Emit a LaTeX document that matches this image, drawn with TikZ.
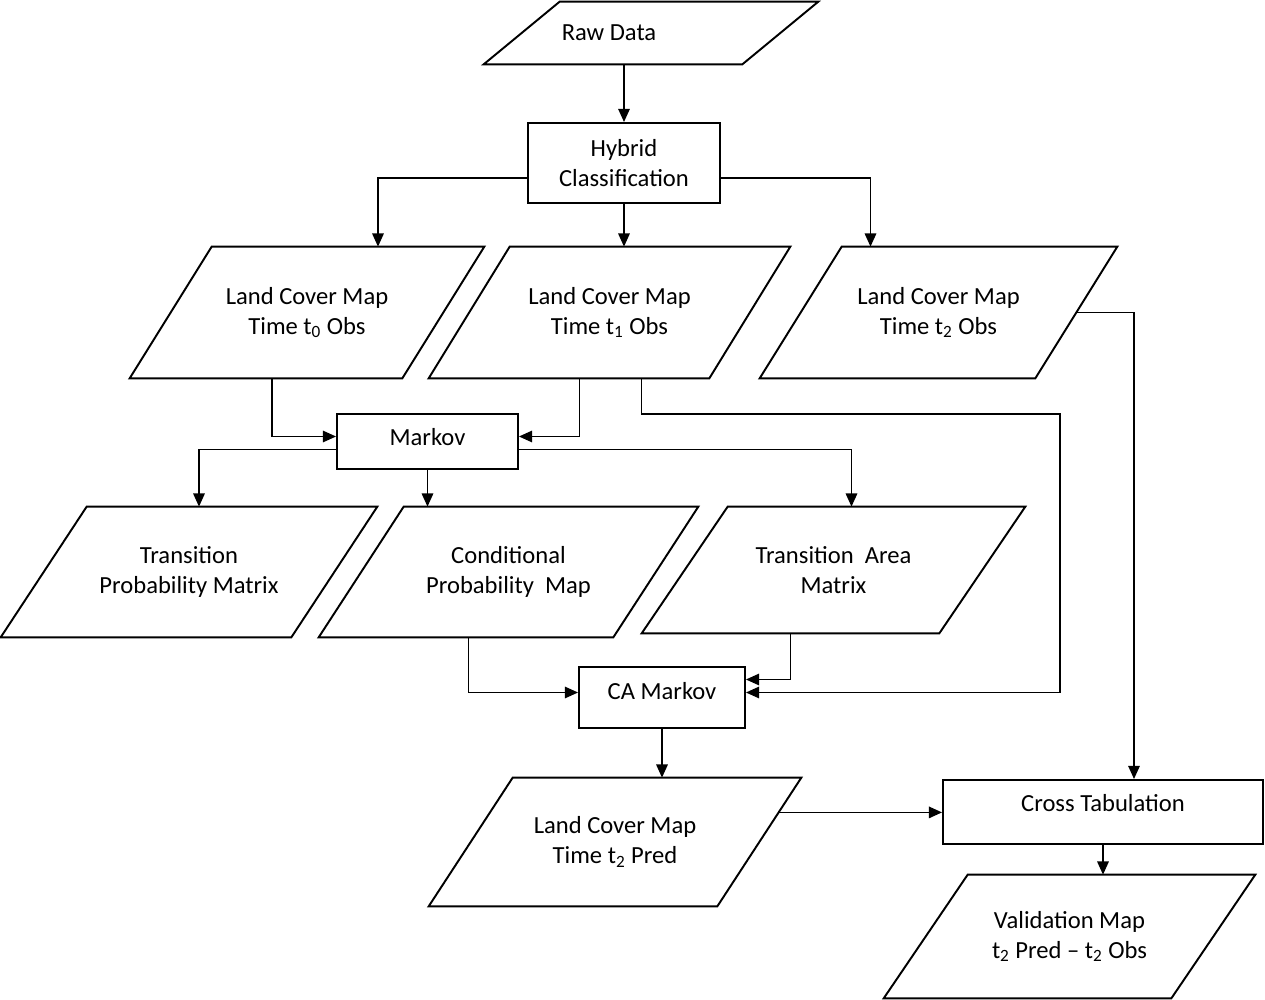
\documentclass[tikz,border=0pt]{standalone}
\usepackage{fontspec}
\setmainfont{Carlito}
\usetikzlibrary{positioning}
\usetikzlibrary{arrows.meta,calc}
\tikzstyle{rectangle1} = [rectangle, draw=black, line width=1.1pt, text centered, align=center, inner sep=2pt]
\tikzset{slanted1/.style={rectangle, text centered, align=center, inner sep=2pt,
	append after command={\pgfextra{\draw[line width=1.1pt, line join=miter] ([xshift=#1]\tikzlastnode.north west) -- ([xshift=#1]\tikzlastnode.north east) -- ([xshift=-#1]\tikzlastnode.south east) -- ([xshift=-#1]\tikzlastnode.south west) -- cycle;}}},
	slanted1/.default=0.84cm}
\tikzstyle{line1} = [-{Triangle[length=7.5pt,width=6.5pt]}, line width=1pt]

\begin{document}
\begin{tikzpicture}[x=0.02cm, y=-0.02cm, font=\fontsize{14}{17}\selectfont]
	\useasboundingbox[fill=white] (0,0) rectangle (1265,1000);
	\node[slanted1=0.76cm, minimum width=5.16cm, minimum height=1.24cm](raw) at (651,33){Raw Data\hspace*{1.68cm}};
	\node[rectangle1, minimum width=3.84cm, minimum height=1.6cm](hybrid) at (624,163){Hybrid\\Classification};
	\node[slanted1=0.82cm, minimum width=5.44cm, minimum height=2.62cm](lcm0) at (307,312.5){Land Cover Map\\Time t\textsubscript{0} Obs};
	\node[slanted1=0.81cm, minimum width=5.6cm, minimum height=2.62cm](lcm1) at (609.5,312.5){Land Cover Map\\Time t\textsubscript{1} Obs};
	\node[slanted1=0.82cm, minimum width=5.5cm, minimum height=2.62cm](lcm2) at (938.5,312.5){Land Cover Map\\Time t\textsubscript{2} Obs};
	\node[rectangle1, minimum width=3.62cm, minimum height=1.1cm, text depth=0.18cm](markov) at (427.5,441.5){Markov};
	\node[slanted1=0.86cm, minimum width=5.8cm, minimum height=2.6cm](tpm) at (189,572){Transition\\Probability Matrix};
	\node[slanted1=0.85cm, minimum width=5.88cm, minimum height=2.6cm](cpm) at (508.5,572){Conditional\\Probability~ Map};
	\node[slanted1=0.86cm, minimum width=5.94cm, minimum height=2.52cm](tam) at (833.5,570){Transition~ Area\\Matrix};
	\node[rectangle1, minimum width=3.32cm, minimum height=1.22cm, text depth=0.28cm](camarkov) at (662,697.5){CA Markov};
	\node[slanted1=0.84cm, minimum width=5.76cm, minimum height=2.56cm](pred) at (615,842){Land Cover Map\\Time t\textsubscript{2} Pred};
	\node[rectangle1, minimum width=6.4cm, minimum height=1.28cm, text depth=0.36cm](cross) at (1103,812){Cross Tabulation};
	\node[slanted1=0.84cm, minimum width=5.74cm, minimum height=2.46cm](valid) at (1069.5,936.5){Validation Map\\t\textsubscript{2} Pred -- t\textsubscript{2} Obs};
	\coordinate (turn) at (1060,414);
	\coordinate (predtr) at ([xshift=0.84cm]pred.north east);
	\coordinate (predbr) at ([xshift=-0.84cm]pred.south east);
	\coordinate (predout) at ($(predtr)!0.27!(predbr)$);
	\draw[line1] (raw.south -| hybrid.north) -- (hybrid.north);
	\draw[line1] ($(hybrid.west)+(0,15)$) -| ($(lcm0.north)+(71,0)$);
	\draw[line1] (hybrid.south) -- (hybrid.south |- lcm1.north);
	\draw[line1] ($(hybrid.east)+(0,15)$) -| ($(lcm2.north)+(-68,0)$);
	\draw[line1] ($(lcm0.south)+(-35,0)$) |- ($(markov.west)+(0,-5)$);
	\draw[line1] ($(lcm1.south)+(-30,0)$) |- ($(markov.east)+(0,-5)$);
	\draw[line1] ($(lcm1.south)+(32,0)$) |- (turn) |- ($(camarkov.east)+(0,-5)$);
	\draw[line1] ($(markov.west)+(0,8)$) -| ($(tpm.north)+(10,0)$);
	\draw[line1] (markov.south) -- (markov.south |- cpm.north);
	\draw[line1] ($(markov.east)+(0,8)$) -| ($(tam.north)+(18,0)$);
	\draw[line1] ($(cpm.south)+(-40,0)$) |- ($(camarkov.west)+(0,-5)$);
	\draw[line1] ($(tam.south)+(-43,0)$) |- ($(camarkov.east)+(0,-18)$);
	\draw[line1] (camarkov.south) -- (camarkov.south |- pred.north);
	\draw[line1] (predout) -- (predout -| cross.west);
	\draw[line1] (lcm2.east) -| ($(cross.north)+(31,0)$);
	\draw[line1] (cross.south) -- (cross.south |- valid.north);
\end{tikzpicture}
\end{document}
